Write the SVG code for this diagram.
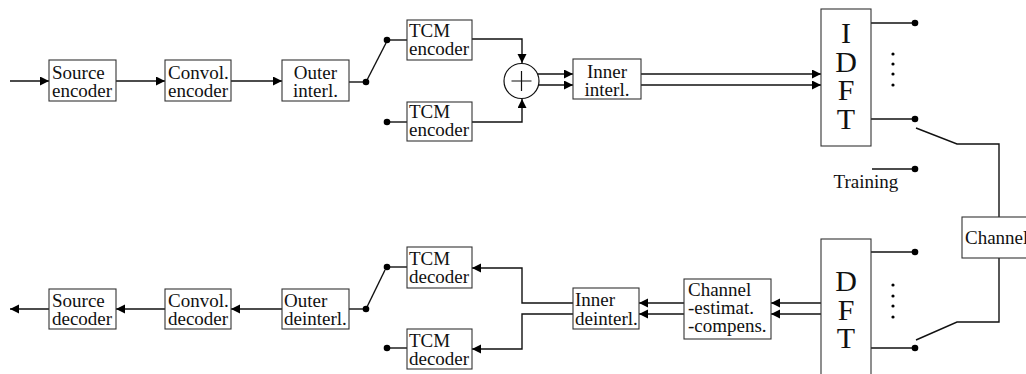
<svg xmlns="http://www.w3.org/2000/svg" width="1026" height="374" viewBox="0 0 1026 374">
<style>
.box{fill:#fff;stroke:#333;stroke-width:1.1}
.t{font-family:"Liberation Serif","Times New Roman",serif;font-size:19px;fill:#111}
.big{font-family:"Liberation Serif","Times New Roman",serif;font-size:30px;fill:#111;text-anchor:middle}
.m{text-anchor:middle}
.c{fill:none;stroke:#111;stroke-width:1.4}
.a{marker-end:url(#ah)}
.dot{fill:#000}
</style>
<defs>
<marker id="ah" markerUnits="userSpaceOnUse" markerWidth="10" markerHeight="10" refX="9" refY="4.5" orient="auto">
<path d="M0,0 L9,4.5 L0,9 z" fill="#000"/>
</marker>
</defs>
<rect width="1026" height="374" fill="#fff"/>
<g id="connectors">
<path class="c a" d="M10,81 H49"/>
<path class="c a" d="M116,81 H165"/>
<path class="c a" d="M231,81 H282"/>
<path class="c" d="M349,82 H366"/>
<path class="c" d="M366,82 L386,43"/>
<path class="c" d="M387,40 H407"/>
<path class="c" d="M387,122 H407"/>
<path class="c a" d="M472,39 H522 V63"/>
<path class="c a" d="M472,122 H522 V99"/>
<path class="c a" d="M537,74 H573"/>
<path class="c a" d="M538,85 H573"/>
<path class="c a" d="M641,74 H821"/>
<path class="c a" d="M641,85 H821"/>
<path class="c" d="M871,23 H915"/>
<path class="c" d="M871,119 H915"/>
<path class="c" d="M872,169 H915"/>
<path class="c" d="M916,128 L957,144 H999 V217"/>
<path class="c" d="M999,258 V322 H957 L916,340"/>
<path class="c" d="M871,252 H915"/>
<path class="c" d="M871,348 H915"/>
<path class="c a" d="M821,303 H771"/>
<path class="c a" d="M821,314 H771"/>
<path class="c a" d="M684,303 H639"/>
<path class="c a" d="M684,314 H639"/>
<path class="c a" d="M573,303 H522 V268 H472"/>
<path class="c a" d="M573,314 H522 V349 H472"/>
<path class="c" d="M387,267 H407"/>
<path class="c" d="M387,348 H407"/>
<path class="c" d="M366,309 L385,270"/>
<path class="c" d="M349,309 H366"/>
<path class="c a" d="M282,309 H231"/>
<path class="c a" d="M165,309 H116"/>
<path class="c a" d="M49,309 H10"/>
<g class="dot">
<circle cx="366" cy="82" r="3.3"/>
<circle cx="387" cy="40" r="3.3"/>
<circle cx="387" cy="122" r="3.3"/>
<circle cx="915" cy="23" r="3.3"/>
<circle cx="915" cy="119" r="3.3"/>
<circle cx="915" cy="169" r="3.3"/>
<circle cx="915" cy="252" r="3.3"/>
<circle cx="915" cy="348" r="3.3"/>
<circle cx="366" cy="309" r="3.3"/>
<circle cx="387" cy="267" r="3.3"/>
<circle cx="387" cy="348" r="3.3"/>
<circle cx="893" cy="54" r="1.6"/>
<circle cx="893" cy="64" r="1.6"/>
<circle cx="893" cy="74" r="1.6"/>
<circle cx="893" cy="85" r="1.6"/>
<circle cx="893" cy="285" r="1.6"/>
<circle cx="893" cy="296" r="1.6"/>
<circle cx="893" cy="306" r="1.6"/>
<circle cx="893" cy="317" r="1.6"/>
</g>
</g>
<g id="source-encoder"><rect class="box" x="49" y="60" width="67" height="41"/><text class="t" x="52" y="79">Source</text><text class="t" x="52" y="97">encoder</text></g>
<g id="convol-encoder"><rect class="box" x="165" y="60" width="66" height="41"/><text class="t" x="168" y="79">Convol.</text><text class="t" x="168" y="97">encoder</text></g>
<g id="outer-interl"><rect class="box" x="282" y="60" width="67" height="41"/><text class="t m" x="315.5" y="79">Outer</text><text class="t m" x="315.5" y="97">interl.</text></g>
<g id="tcm-encoder-1"><rect class="box" x="407" y="20" width="65" height="40"/><text class="t" x="409" y="37">TCM</text><text class="t" x="409" y="55">encoder</text></g>
<g id="tcm-encoder-2"><rect class="box" x="407" y="102" width="65" height="39"/><text class="t" x="409" y="118">TCM</text><text class="t" x="409" y="136">encoder</text></g>
<g id="adder"><circle cx="521.5" cy="81" r="17.5" fill="#fff" stroke="#111" stroke-width="1.2"/><path d="M511.5,81 H531.5 M521.5,71 V91" stroke="#111" stroke-width="1.2"/></g>
<g id="inner-interl"><rect class="box" x="573" y="59" width="68" height="40"/><text class="t m" x="607" y="78">Inner</text><text class="t m" x="607" y="96">interl.</text></g>
<g id="idft"><rect class="box" x="821" y="9" width="50" height="137"/><text class="big" x="846" y="43">I</text><text class="big" x="846" y="72">D</text><text class="big" x="846" y="100">F</text><text class="big" x="846" y="129">T</text></g>
<g id="training"><text class="t m" x="866" y="188">Training</text></g>
<g id="channel"><rect class="box" x="962" y="217" width="80" height="41"/><text class="t" x="965" y="244">Channel</text></g>
<g id="dft"><rect class="box" x="821" y="239" width="50" height="150"/><text class="big" x="846" y="291">D</text><text class="big" x="846" y="320">F</text><text class="big" x="846" y="348">T</text></g>
<g id="channel-estimation"><rect class="box" x="684" y="279" width="87" height="60"/><text class="t" x="688" y="296">Channel</text><text class="t" x="688" y="314">-estimat.</text><text class="t" x="688" y="332">-compens.</text></g>
<g id="inner-deinterl"><rect class="box" x="573" y="288" width="66" height="41"/><text class="t" x="575" y="306">Inner</text><text class="t" x="575" y="325">deinterl.</text></g>
<g id="tcm-decoder-1"><rect class="box" x="407" y="247" width="65" height="41"/><text class="t" x="409" y="265">TCM</text><text class="t" x="409" y="283">decoder</text></g>
<g id="tcm-decoder-2"><rect class="box" x="407" y="329" width="65" height="40"/><text class="t" x="409" y="347">TCM</text><text class="t" x="409" y="365">decoder</text></g>
<g id="outer-deinterl"><rect class="box" x="282" y="289" width="67" height="40"/><text class="t" x="284" y="307">Outer</text><text class="t" x="284" y="325">deinterl.</text></g>
<g id="convol-decoder"><rect class="box" x="165" y="289" width="66" height="40"/><text class="t" x="168" y="307">Convol.</text><text class="t" x="168" y="325">decoder</text></g>
<g id="source-decoder"><rect class="box" x="49" y="289" width="67" height="40"/><text class="t" x="52" y="307">Source</text><text class="t" x="52" y="325">decoder</text></g>
</svg>
